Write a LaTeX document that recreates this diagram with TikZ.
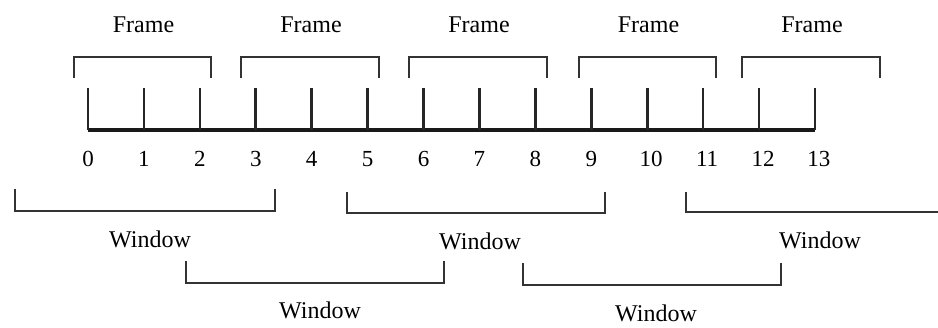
\documentclass[tikz,border=0pt]{standalone}
\usepackage{fontspec}
\setmainfont{Liberation Serif}
\begin{document}
\begin{tikzpicture}[x=1pt,y=-1pt,
  lbl/.style={font=\fontsize{24}{26}\selectfont, inner sep=0pt, anchor=center},
  num/.style={font=\fontsize{23}{25}\selectfont, inner sep=0pt, anchor=center},
  axisline/.style={line width=3.4pt, black!90},
  tickline/.style={line width=2.6pt, black!85},
  bracketline/.style={line width=2.6pt, black!80}]
\useasboundingbox (0,0) rectangle (938,327);
% axis
\coordinate (a0) at (88,130);
\coordinate (a13) at (815,130);
\draw[axisline] (a0) -- (a13);
\foreach \i in {0,...,13}{
  \pgfmathsetmacro{\xx}{88+55.92*\i}
  \coordinate (t\i) at (\xx,88);
  \coordinate (b\i) at (\xx,130);
  \draw[tickline] (t\i) -- (b\i);
}
\foreach \i in {0,...,9}{
  \pgfmathsetmacro{\xx}{88+55.92*\i}
  \node[num] (n\i) at (\xx,159) {\i};
}
\foreach \i in {10,...,13}{
  \pgfmathsetmacro{\xx}{88+55.92*\i+4}
  \node[num] (n\i) at (\xx,159) {\i};
}
% frames
\foreach \l/\r [count=\k] in {74/211,241/379,409/547,579/716,742/880}{
  \coordinate (fl\k) at (\l,78);
  \coordinate (fr\k) at (\r,78);
  \draw[bracketline] (fl\k) -- (\l,57) -- (\r,57) -- (fr\k);
  \pgfmathsetmacro{\cx}{(\l+\r)/2+1}
  \node[lbl] (f\k) at (\cx,25) {Frame};
}
% windows
\foreach \l/\r/\t/\b/\lx/\ly [count=\k] in {15/275/189/211/150/239, 186/444/261/283/320/310, 347/605/192/213/480/241, 523/781/263/285/656/313}{
  \coordinate (wl\k) at (\l,\t);
  \coordinate (wr\k) at (\r,\t);
  \draw[bracketline] (wl\k) -- (\l,\b) -- (\r,\b) -- (wr\k);
  \node[lbl] (w\k) at (\lx,\ly) {Window};
}
\coordinate (wl5) at (686,192);
\coordinate (wr5) at (942,212);
\draw[bracketline] (wl5) -- (686,212) -- (wr5);
\node[lbl] (w5) at (820,240) {Window};
\end{tikzpicture}
\end{document}
